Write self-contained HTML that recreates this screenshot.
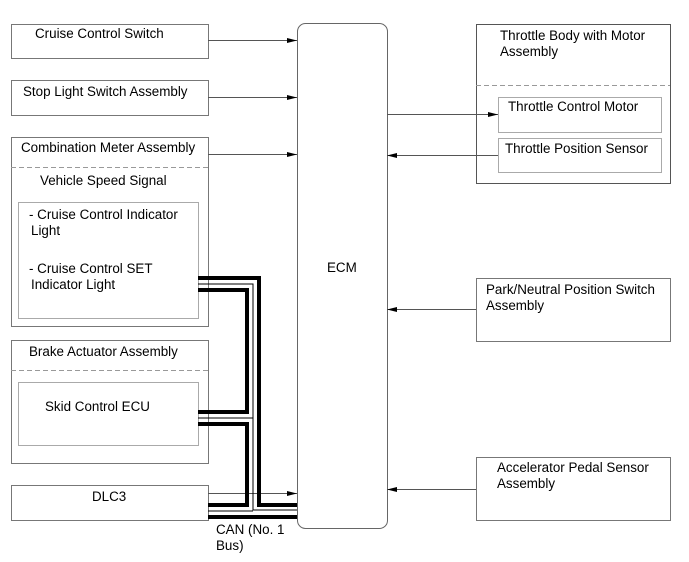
<!DOCTYPE html>
<html><head><meta charset="utf-8"><style>
html,body{margin:0;padding:0;background:#fff;}
svg{display:block;}
text{font-family:"Liberation Sans",Arial,sans-serif;font-size:13.4px;fill:#000;}
</style></head><body>
<svg width="689" height="562" viewBox="0 0 689 562" xmlns="http://www.w3.org/2000/svg">
<defs><marker id="a" markerWidth="10" markerHeight="6" refX="10" refY="3" orient="auto" markerUnits="userSpaceOnUse"><path d="M0,0.5 L10,3 L0,5.5z" fill="#000"/></marker></defs>
<g fill="none" stroke="#777" stroke-width="1">
<rect x="11.5" y="24.5" width="197" height="34"/>
<rect x="11.5" y="80.5" width="197" height="35"/>
<rect x="11.5" y="137.5" width="197" height="189"/>
<line x1="11" y1="167.5" x2="208" y2="167.5" stroke-dasharray="5,3" stroke="#999"/>
<rect x="18.5" y="202.5" width="180" height="116" stroke="#aaa"/>
<rect x="11.5" y="340.5" width="197" height="123"/>
<line x1="11" y1="370.5" x2="208" y2="370.5" stroke-dasharray="5,3" stroke="#999"/>
<rect x="18.5" y="382.5" width="180" height="63" stroke="#aaa"/>
<rect x="11.5" y="485.5" width="197" height="35"/>
<rect x="297.5" y="23.5" width="90" height="505" rx="8" stroke="#666"/>
<rect x="476.5" y="24.5" width="194" height="159" stroke="#555"/>
<line x1="476" y1="85.5" x2="670" y2="85.5" stroke-dasharray="5,3" stroke="#999"/>
<rect x="498.5" y="97.5" width="163" height="35" stroke="#aaa"/>
<rect x="498.5" y="138.5" width="163" height="34" stroke="#aaa"/>
<rect x="476.5" y="278.5" width="194" height="63"/>
<rect x="476.5" y="457.5" width="194" height="63"/>
</g>
<g stroke="#555" stroke-width="1" fill="none">
<line x1="208" y1="40.5" x2="297" y2="40.5" marker-end="url(#a)"/>
<line x1="208" y1="97.5" x2="297" y2="97.5" marker-end="url(#a)"/>
<line x1="208" y1="154.5" x2="297" y2="154.5" marker-end="url(#a)"/>
<line x1="208" y1="493.5" x2="297" y2="493.5" marker-end="url(#a)"/>
<line x1="387" y1="114.5" x2="498" y2="114.5" marker-end="url(#a)"/>
<line x1="498" y1="155.5" x2="387" y2="155.5" marker-end="url(#a)"/>
<line x1="476" y1="309.5" x2="387" y2="309.5" marker-end="url(#a)"/>
<line x1="476" y1="489.5" x2="387" y2="489.5" marker-end="url(#a)"/>
</g>
<g fill="none" stroke="#000">
<polyline points="198,278 259,278 259,505 297,505" stroke-width="4"/>
<polyline points="198,284 253,284 253,510 297,510" stroke-width="1"/>
<polyline points="198,290 247,290 247,412 198,412" stroke-width="4"/>
<line x1="198" y1="418" x2="253" y2="418" stroke-width="1"/>
<polyline points="198,424 247,424 247,505 208,505" stroke-width="4"/>
<line x1="208" y1="511" x2="253" y2="511" stroke-width="1"/>
<line x1="208" y1="517" x2="297" y2="517" stroke-width="4"/>
</g>
<text x="35" y="38">Cruise Control Switch</text>
<text x="23" y="96">Stop Light Switch Assembly</text>
<text x="21" y="152">Combination Meter Assembly</text>
<text x="40" y="185">Vehicle Speed Signal</text>
<text x="29" y="219">- Cruise Control Indicator</text>
<text x="31" y="235">Light</text>
<text x="29" y="273">- Cruise Control SET</text>
<text x="31" y="289">Indicator Light</text>
<text x="29" y="356">Brake Actuator Assembly</text>
<text x="45" y="411">Skid Control ECU</text>
<text x="92" y="501">DLC3</text>
<text x="216" y="534">CAN (No. 1</text>
<text x="216" y="550">Bus)</text>
<text x="327" y="272">ECM</text>
<text x="500" y="40">Throttle Body with Motor</text>
<text x="500" y="56">Assembly</text>
<text x="508" y="111">Throttle Control Motor</text>
<text x="505" y="153">Throttle Position Sensor</text>
<text x="486" y="294">Park/Neutral Position Switch</text>
<text x="486" y="310">Assembly</text>
<text x="497" y="472">Accelerator Pedal Sensor</text>
<text x="497" y="488">Assembly</text>
</svg>
</body></html>
